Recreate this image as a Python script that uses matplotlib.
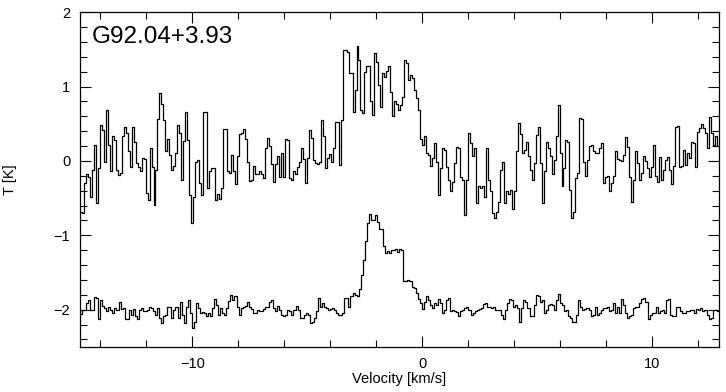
import numpy as np
import matplotlib
matplotlib.use("Agg")
import matplotlib.pyplot as plt
from matplotlib.ticker import MultipleLocator

# velocity range covered by both spectra (km/s)
v_min = -14.89
v_max = 12.89

# upper spectrum (T in K), read channel by channel
top_T = [
    -0.68, -0.70, -0.30, -0.18, -0.22, -0.48, -0.12, 0.22, -0.57, -0.10,
    0.48, 0.42, -0.02, 0.68, 0.21, -0.14, 0.34, 0.28, -0.12, -0.19,
    -0.16, 0.33, 0.45, 0.38, 0.13, -0.08, 0.45, 0.26, -0.03, -0.08,
    -0.13, 0.04, 0.02, -0.43, -0.52, 0.17, -0.08, -0.59, -0.12, 0.57,
    0.91, 0.77, 0.55, 0.13, 0.29, 0.08, -0.12, -0.07, 0.10, 0.48,
    0.37, -0.25, 0.27, 0.66, 0.28, -0.46, -0.84, -0.48, -0.02, 0.01, -0.30,
    -0.46, 0.66, 0.66, -0.37, -0.14, -0.10, -0.09, -0.52, -0.44, -0.51,
    -0.36, 0.43, 0.43, -0.13, -0.16, 0.08, -0.13, -0.31, 0.06, 0.36,
    0.38, 0.43, 0.29, -0.01, -0.27, -0.26, -0.07, -0.17, -0.18, -0.14,
    -0.17, -0.23, 0.18, 0.31, 0.20, -0.04, -0.28, -0.04, 0.06, -0.21,
    0.10, -0.21, 0.29, 0.28, -0.23, -0.26, -0.13, -0.17, -0.08, -0.02,
    0.17, 0.02, -0.30, 0.04, 0.42, 0.31, 0.01, -0.03, -0.04, -0.01,
    0.55, 0.33, -0.10, 0.04,
    0.09, -0.01, 0.17, 0.53, 0.53, -0.05, 0.55, 1.49, 1.49, 1.47,
    1.18, 1.18, 0.66, 0.95, 1.54, 1.36, 0.68, 0.64, 1.20, 1.27,
    1.27, 0.80, 0.62, 1.45, 1.33, 1.02, 0.73, 1.18, 1.13, 1.21,
    1.27, 0.93, 0.60, 0.80, 0.77, 0.68, 0.75, 0.86, 1.36, 1.31,
    1.09, 1.16, 1.11, 0.95, 0.84, 0.68, 0.30, 0.21, 0.33, 0.10,
    0.08, -0.07, 0.04, 0.24, -0.01, -0.46, -0.10, 0.17, 0.15, -0.08,
    -0.26, -0.41, -0.28, -0.03, 0.19, 0.17, -0.21, -0.25, -0.72, -0.25,
    0.37, 0.24, 0.07, 0.18, -0.56, -0.34, -0.37, -0.34, -0.49, 0.17,
    -0.26, -0.41, -0.70, -0.77, -0.68, -0.55, -0.12, -0.01, -0.57, -0.41,
    -0.45, -0.39, -0.64, -0.41, 0.13, 0.51, 0.36, 0.10, 0.15, 0.25,
    0.06, -0.12, -0.26, -0.03, 0.35, 0.45, -0.03, -0.56, -0.14, 0.26,
    0.17, 0.06, -0.17, 0.01, 0.33, 0.75, 0.10, -0.34, -0.10, 0.28,
    0.25, -0.39, -0.77, -0.68,
    -0.23, -0.16, 0.58, 0.57, -0.01, -0.20, 0.01, 0.20, 0.21, 0.13,
    0.11, 0.11, 0.17, 0.24, -0.29, -0.21, -0.20, -0.40, -0.29, -0.20,
    0.13, 0.02, 0.01, 0.00, 0.08, 0.32, 0.19, -0.21, -0.55, -0.25,
    0.13, -0.03, -0.26, -0.16, 0.06, 0.00, -0.10, -0.21, -0.08, 0.22,
    -0.20, -0.28, 0.05, -0.26, -0.12, 0.01, 0.05, -0.12, -0.31, -0.07,
    0.45, 0.47, -0.08, -0.07, 0.15, -0.05, 0.11, 0.04, 0.26, 0.24,
    -0.08, 0.39, 0.44, 0.50, 0.44, 0.37, 0.17, 0.59, 0.37, 0.21,
    0.33, 0.20,
]

# lower spectrum (T in K, already offset by -2)
bottom_T = [
    -2.06, -2.00, -2.00, -1.91, -1.87, -2.01, -2.00, -1.83, -1.84, -2.13,
    -1.87, -1.95, -1.98, -2.02, -1.96, -2.00, -2.04, -1.98, -2.01, -1.90,
    -1.99, -1.98, -2.13, -2.12, -2.00, -2.07, -1.99, -2.08, -2.13, -2.00,
    -1.98, -2.02, -2.02, -2.00, -1.96, -1.98, -2.02, -2.07, -1.98, -2.11,
    -2.18, -2.09, -2.07, -1.96, -1.97, -2.11, -2.00, -1.96, -2.11, -1.89,
    -2.07, -2.18, -1.96, -1.87, -2.04, -2.24, -2.16, -1.91, -1.98, -2.04,
    -2.03, -2.04, -2.09, -2.04, -2.09, -1.98, -1.86, -1.93, -2.07, -1.98,
    -2.04, -2.07, -1.98, -1.88, -1.80, -1.87, -1.81, -1.96, -2.07, -1.98,
    -1.96, -1.95, -1.89, -1.96, -1.99, -2.04, -2.04, -2.00, -2.02, -2.02,
    -1.99, -1.96, -1.96, -1.89, -1.87, -1.98, -2.02, -1.95, -2.00, -2.07, -2.08,
    -2.07, -2.00, -2.02, -2.07, -2.00, -1.95, -2.00, -2.11, -2.11, -2.07,
    -2.04, -2.07, -2.18, -2.16, -2.11, -2.02, -1.84, -1.96, -1.91, -1.96,
    -1.98, -2.00, -1.99, -1.98, -2.00, -2.04, -2.07, -2.07, -2.04, -1.84,
    -1.84, -1.96, -1.82, -1.78, -1.80, -1.82, -1.72, -1.53, -1.33, -1.07,
    -0.84, -0.71, -0.80, -0.80, -0.73, -0.82, -0.91, -0.91, -1.15, -1.24,
    -1.21, -1.24, -1.20, -1.20, -1.18, -1.22, -1.18, -1.20, -1.61, -1.61,
    -1.60, -1.62, -1.70, -1.71, -1.78, -1.86, -1.91, -1.99, -1.90, -1.82,
    -1.87, -1.93, -1.98, -1.91, -1.93, -1.86, -1.91, -2.04, -2.00, -1.87,
    -1.84, -2.02, -2.00, -2.02, -2.03, -2.09, -2.02, -2.00, -1.98, -1.96,
    -2.01, -2.07, -2.04, -2.02, -2.00, -1.99, -1.98, -1.92, -1.91, -1.96,
    -1.96, -1.98, -1.96, -2.00, -2.00, -2.01,
    -2.07, -2.13, -2.00, -1.91, -1.86, -1.87, -1.96, -1.93, -1.98, -2.16,
    -1.98, -1.87, -1.89, -1.98, -2.09, -2.09, -1.93, -1.80, -1.82, -1.89,
    -1.87, -2.04, -2.00, -1.93, -1.92, -1.93, -2.00, -1.87, -1.79, -1.91,
    -1.93, -2.02, -2.00, -2.09, -2.11, -2.16, -2.17, -2.07, -1.87, -1.96,
    -2.00, -1.99, -1.98, -2.00, -2.09, -2.07, -1.96, -2.07, -2.04, -2.00,
    -1.98, -1.98, -1.96, -2.02, -2.00, -1.91, -2.04, -1.96, -2.04, -1.86,
    -1.93, -2.04, -2.11, -2.09, -2.07, -1.98, -1.96, -1.96, -1.91, -1.86,
    -1.84, -1.89, -2.13, -2.07, -2.04, -2.04, -1.96, -2.04, -2.02, -2.00,
    -2.04, -1.87, -1.86, -2.07, -2.09, -2.09, -1.96, -1.96, -2.02, -2.04,
    -2.04, -2.02, -2.02, -2.00, -2.00, -2.04, -1.99, -2.00, -1.98, -2.02,
    -2.00, -2.07, -2.13, -2.11, -2.00, -2.00, -2.02,
]

title = "G92.04+3.93"

plt.rcParams['font.family'] = ['Liberation Sans', 'DejaVu Sans']

fig = plt.figure(figsize=(7.26, 3.92), dpi=100)
ax = fig.add_axes([0.110, 0.115, 0.880, 0.854])

# channel centres spread evenly over the velocity range
for T in (top_T, bottom_T):
    dv = (v_max - v_min) / len(T)
    v = v_min + dv * (np.arange(len(T)) + 0.5)
    ax.plot(v, T, drawstyle='steps-mid', color='black', lw=0.9)

ax.set_xlim(v_min, v_max)
ax.set_ylim(-2.5, 2.0)

ax.xaxis.set_major_locator(MultipleLocator(10))
ax.xaxis.set_minor_locator(MultipleLocator(2))
ax.yaxis.set_major_locator(MultipleLocator(1))
ax.yaxis.set_minor_locator(MultipleLocator(0.2))
ax.tick_params(which='both', direction='in', top=True, right=True,
               width=0.8, labelsize=10.5)
ax.tick_params(which='major', length=8, pad=7)
ax.tick_params(which='minor', length=5)
for s in ax.spines.values():
    s.set_linewidth(0.9)

ax.set_xlabel("Velocity [km/s]", fontsize=10.5, labelpad=1)
ax.set_ylabel("T [K]", fontsize=10.5, labelpad=26)

ax.text(0.018, 0.96, title, transform=ax.transAxes, fontsize=17.5,
        ha='left', va='top')

fig.savefig("out.png", dpi=100)
